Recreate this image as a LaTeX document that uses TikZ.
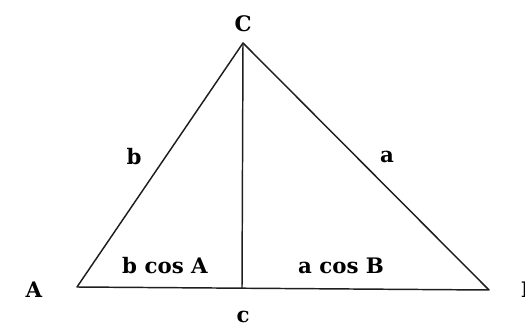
\documentclass[tikz,border=0pt]{standalone}
\usepackage{fontspec}
\setmainfont{DejaVu Serif}

\tikzset{every picture/.style={line width=0.75pt}}
\tikzset{lbl/.style={inner sep=0.75pt, font=\fontsize{16}{19}\selectfont\bfseries}}
\tikzset{side/.style={color={rgb, 255:red, 30; green, 30; blue, 30 }, line width=1.1pt, line join=round}}

\begin{document}
\begin{tikzpicture}[x=0.75pt,y=0.75pt,yscale=-1,xscale=1]
\useasboundingbox (0,0) rectangle (525,328); %set diagram size 525 x 328

% Vertices
\coordinate (A) at (77,287);
\coordinate (B) at (489,290);
\coordinate (C) at (243,43);
\coordinate (D) at (242,288);

%Triangle
\draw [side] (A) -- (C) -- (B) -- cycle ;
%Altitude
\draw [side] (C) -- (D) ;

% Text Node
\node [lbl] (lC) at (243,24) {C};
\node [lbl] (lA) at (34,290) {A};
\node [lbl] (lB) at (530,290) {B};
\node [lbl] (lb) at (134,157) {b};
\node [lbl] (la) at (387,157) {a};
\node [lbl] (lbcos) at (165,266) {b cos A};
\node [lbl] (lacos) at (341,266) {a cos B};
\node [lbl] (lc) at (243,317) {c};

\end{tikzpicture}
\end{document}
